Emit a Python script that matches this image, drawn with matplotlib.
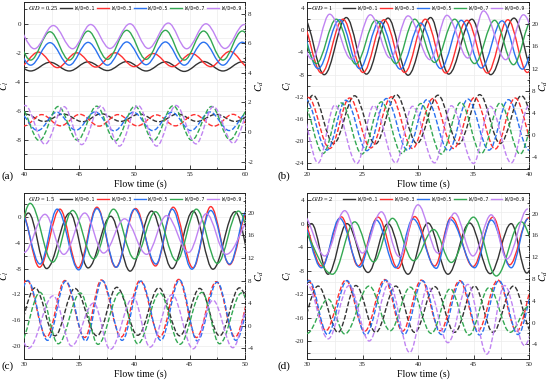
import matplotlib
matplotlib.use('Agg')
import matplotlib.pyplot as plt
from matplotlib.path import Path
from matplotlib.patches import PathPatch
from matplotlib.lines import Line2D
from matplotlib.ticker import AutoMinorLocator

plt.rcParams['font.family'] = ['Liberation Serif', 'DejaVu Serif']
plt.rcParams['mathtext.fontset'] = 'stix'
plt.rcParams['axes.unicode_minus'] = False

# ---------------- data (extrema: times [s], values) ----------------
WD_LABELS = ['W/D=0.1', 'W/D=0.3', 'W/D=0.5', 'W/D=0.7', 'W/D=0.9']
GD_VALUES = ['0.25', '1', '1.5', '2']
PANEL_TAGS = ['(a)', '(b)', '(c)', '(d)']
TIME_RANGES = [(40, 60), (20, 40), (30, 50), (30, 50)]

# Panel (a)  G/D = 0.25
A_CL_T = [
    [38.9, 40.6, 42.35, 44.1, 45.8, 47.55, 49.3, 51.05, 52.8, 54.5, 56.25, 58.0, 59.75, 61.5],
    [37.8, 39.55, 41.3, 43.03, 44.77, 46.5, 48.24, 49.97, 51.7, 53.43, 55.17, 56.9, 58.64, 60.37],
    [38.9, 40.6, 42.35, 44.1, 45.8, 47.55, 49.3, 51.05, 52.8, 54.5, 56.25, 58.0, 59.75, 61.5],
    [38.9, 40.6, 42.35, 44.1, 45.8, 47.55, 49.3, 51.05, 52.8, 54.5, 56.25, 58.0, 59.75, 61.5],
    [39.2, 40.94, 42.65, 44.4, 46.03, 47.78, 49.59, 51.25, 53.06, 54.72, 56.47, 58.19, 59.94, 61.7],
]
A_CL_V = [
    [-2.65, -3.25, -2.65, -3.25, -2.62, -3.22, -2.6, -3.25, -2.62, -3.28, -2.6, -3.25, -2.62, -3.2],
    [-2.0, -3.0, -1.95, -3.02, -2.0, -2.98, -2.0, -2.95, -2.05, -2.95, -2.05, -2.95, -1.9, -3.0],
    [-1.3, -2.85, -1.3, -2.85, -1.28, -2.85, -1.25, -2.82, -1.25, -2.85, -1.27, -2.85, -1.27, -2.85],
    [-0.55, -2.5, -0.55, -2.5, -0.5, -2.45, -0.45, -2.45, -0.45, -2.5, -0.5, -2.5, -0.5, -2.5],
    [-0.1, -1.72, -0.12, -1.72, -0.05, -1.7, 0.0, -1.7, 0.05, -1.72, 0.0, -1.7, -0.05, -1.7],
]
A_CD_T = [
    [38.4, 40.1, 41.8, 43.56, 45.3, 47.0, 48.75, 50.47, 52.2, 53.9, 55.65, 57.4, 59.1, 60.85],
    [38.25, 40.0, 41.6, 43.3, 45.06, 46.8, 48.5, 50.26, 52.0, 53.7, 55.45, 57.2, 58.9, 60.6],
    [39.5, 41.24, 42.96, 44.7, 46.43, 48.17, 49.9, 51.64, 53.37, 55.1, 56.83, 58.58, 60.3],
    [39.63, 41.39, 43.1, 44.83, 46.58, 48.24, 50.05, 51.7, 53.5, 55.17, 56.98, 58.64, 60.45],
    [38.35, 40.09, 41.9, 43.62, 45.22, 46.94, 48.63, 50.32, 52.0, 53.76, 55.57, 57.13, 58.94, 60.6],
]
A_CD_V = [
    [0.72, 1.22, 0.72, 1.22, 0.7, 1.24, 0.72, 1.22, 0.7, 1.22, 0.72, 1.2, 0.72, 1.22],
    [1.18, 0.42, 1.18, 0.42, 1.2, 0.4, 1.18, 0.42, 1.16, 0.42, 1.18, 0.4, 1.2, 0.42],
    [1.34, 0.1, 1.34, 0.12, 1.36, 0.08, 1.34, 0.1, 1.34, 0.1, 1.36, 0.1, 1.34],
    [1.73, -0.58, 1.73, -0.55, 1.75, -0.6, 1.75, -0.58, 1.78, -0.55, 1.73, -0.52, 1.7],
    [-0.8, 1.8, -0.82, 1.72, -0.85, 1.76, -0.95, 1.8, -0.95, 1.8, -0.8, 1.72, -0.75, 1.75],
]

# Panel (b)  G/D = 1
B_CL_T = [
    [19.7, 21.55, 23.54, 25.35, 27.3, 29.1, 31.14, 32.76, 34.86, 36.55, 38.65, 40.5],
    [19.4, 21.3, 23.24, 25.05, 26.94, 28.8, 30.66, 32.5, 34.41, 36.25, 38.1, 39.85, 41.7],
    [19.1, 21.0, 22.94, 24.74, 26.55, 28.4, 30.24, 32.05, 33.9, 35.71, 37.57, 39.4, 41.2],
    [19.0, 20.84, 22.64, 24.4, 26.2, 28.0, 29.7, 31.5, 33.3, 35.1, 36.9, 38.6, 40.3],
    [18.6, 20.45, 22.04, 24.0, 25.7, 27.5, 29.1, 31.1, 32.6, 34.5, 35.9, 37.9, 39.5, 41.3],
]
B_CL_V = [
    [2.2, -8.0, 2.3, -7.9, 2.2, -8.1, 2.3, -7.9, 2.0, -8.0, 2.2, -8.0],
    [2.0, -7.7, 2.0, -7.6, 1.9, -7.6, 2.0, -7.7, 1.8, -7.7, 1.9, -7.6, 2.0],
    [1.9, -6.9, 1.9, -6.9, 1.6, -7.0, 1.3, -6.9, 1.8, -6.8, 1.7, -7.0, 1.8],
    [2.0, -6.0, 2.0, -6.1, 1.8, -6.0, 2.0, -5.8, 2.0, -6.0, 1.8, -6.2, 2.0],
    [2.8, -5.2, 2.9, -5.2, 2.8, -5.0, 2.6, -5.3, 2.7, -5.0, 3.5, -5.3, 2.8, -5.2],
]
B_CD_T = [
    [18.7, 20.54, 22.4, 24.29, 26.15, 28.05, 29.9, 31.8, 33.65, 35.56, 37.4, 39.31, 41.2],
    [18.3, 20.1, 22.05, 23.84, 25.75, 27.6, 29.5, 31.35, 33.2, 35.1, 36.95, 38.75, 40.6],
    [18.0, 19.85, 21.8, 23.5, 25.4, 27.15, 29.05, 30.8, 32.75, 34.5, 36.4, 38.15, 40.0],
    [17.8, 19.6, 21.45, 23.1, 24.95, 26.7, 28.55, 30.25, 32.1, 33.85, 35.7, 37.4, 39.2, 40.9],
    [19.3, 21.0, 22.5, 24.5, 26.0, 28.0, 29.5, 31.5, 33.0, 35.0, 36.5, 38.4, 40.0],
]
B_CD_V = [
    [-1.5, 7.2, -1.5, 7.1, -1.6, 7.3, -1.5, 7.2, -1.6, 7.3, -1.5, 7.1, -1.5],
    [-2.4, 6.8, -2.4, 6.7, -2.3, 6.9, -2.4, 6.6, -2.4, 6.8, -2.5, 6.7, -2.4],
    [-2.7, 6.5, -2.7, 6.3, -2.8, 6.6, -2.7, 6.4, -2.8, 6.5, -2.7, 6.4, -2.7],
    [-3.3, 5.9, -3.3, 5.8, -3.4, 6.0, -3.3, 5.7, -3.4, 5.9, -3.3, 5.8, -3.4, 5.9],
    [5.5, -5.0, 5.4, -5.1, 5.3, -5.0, 5.2, -5.0, 5.3, -5.1, 5.2, -5.0, 5.3],
]

# Panel (c)  G/D = 1.5
C_CL_T = [
    [28.6, 30.4, 32.05, 34.15, 35.8, 37.85, 39.6, 41.55, 43.4, 45.3, 47.1, 49.1, 50.8],
    [28.0, 29.7, 31.4, 33.25, 34.9, 36.6, 38.3, 40.1, 41.9, 43.5, 45.3, 46.9, 48.6, 50.3],
    [27.9, 29.65, 31.45, 33.0, 34.95, 36.6, 38.35, 40.0, 41.95, 43.4, 45.2, 46.9, 48.6, 50.2],
    [28.9, 30.55, 32.6, 34.4, 36.3, 38.1, 40.0, 41.9, 43.8, 45.6, 47.5, 49.4, 51.3],
    [28.2, 30.0, 31.9, 33.6, 35.5, 37.2, 39.1, 41.1, 42.9, 44.9, 46.5, 48.3, 50.8],
]
C_CL_V = [
    [-8.0, 0.6, -8.0, 0.6, -7.9, 0.1, -8.4, 0.9, -8.0, 0.9, -8.1, 0.8, -8.0],
    [-7.6, 1.2, -7.8, 1.2, -7.9, 1.5, -7.8, 1.3, -7.6, 1.5, -7.9, 1.6, -7.4, 1.0],
    [-7.2, 1.0, -7.3, 1.2, -8.2, 1.3, -7.8, 1.2, -7.3, 1.2, -8.1, 1.0, -7.3, 1.0],
    [-7.0, 2.1, -7.0, 1.0, -6.5, 1.2, -6.5, 0.8, -6.8, 1.2, -7.2, 0.9, -7.0],
    [0.3, -5.5, 0.4, -5.8, 0.6, -5.6, -0.3, -5.8, 0.2, -5.5, 0.5, -5.8, 0.3],
]
C_CD_T = [
    [29.2, 31.0, 32.8, 34.6, 36.6, 38.4, 40.3, 42.2, 44.1, 45.9, 47.7, 49.5, 51.3],
    [28.5, 30.25, 32.05, 33.7, 35.5, 37.0, 38.8, 40.5, 42.3, 44.0, 45.6, 47.4, 49.1, 50.9],
    [28.6, 30.33, 32.13, 33.78, 35.58, 37.08, 38.88, 40.58, 42.38, 44.08, 45.68, 47.48, 49.18, 50.98],
    [29.6, 31.45, 33.1, 35.1, 36.7, 38.7, 40.3, 42.3, 44.1, 46.1, 47.7, 49.7, 51.4],
    [28.6, 30.4, 32.65, 34.3, 36.3, 37.8, 39.9, 41.4, 43.4, 45.3, 47.1, 48.9, 50.6],
]
C_CD_V = [
    [-1.8, 6.7, -1.8, 6.6, -1.8, 6.8, -1.7, 6.7, -1.8, 6.6, -1.8, 6.7, -1.8],
    [-2.0, 8.1, -2.0, 8.0, -2.1, 8.1, -2.0, 8.0, -2.0, 8.2, -2.1, 7.8, -2.0, 8.0],
    [-2.6, 8.0, -2.6, 7.9, -2.7, 8.0, -2.6, 7.9, -2.6, 8.1, -2.7, 7.7, -2.6, 7.9],
    [-3.2, 5.9, -3.2, 5.8, -3.3, 5.9, -3.2, 5.8, -3.3, 5.9, -3.2, 5.8, -3.2],
    [5.0, -4.0, 5.3, -3.6, 4.0, -4.2, 5.0, -3.8, 5.5, -4.1, 4.5, -3.9, 5.0],
]

# Panel (d)  G/D = 2
D_CL_T = [
    [28.7, 30.4, 31.9, 33.6, 35.5, 37.3, 39.1, 40.9, 42.7, 44.65, 46.5, 48.4, 49.8, 51.5],
    [29.5, 31.3, 33.1, 34.6, 36.4, 38.2, 39.7, 41.5, 43.0, 44.95, 46.75, 48.25, 50.0],
    [29.4, 31.3, 32.95, 34.75, 36.25, 38.0, 39.55, 41.65, 42.9, 45.1, 46.6, 48.4, 49.9],
    [28.9, 32.3, 34.3, 36.0, 37.7, 39.6, 41.4, 43.0, 45.0, 47.05, 49.3, 51.0],
    [29.6, 31.6, 33.4, 35.0, 36.7, 38.3, 40.0, 41.8, 43.3, 44.95, 46.6, 48.0, 49.9],
]
D_CL_V = [
    [-8.5, 0.0, -8.6, 0.0, -8.3, 0.0, -8.6, 0.1, -8.6, 0.1, -8.5, 0.0, -8.4, 0.0],
    [1.0, -7.2, 1.15, -7.2, 1.1, -7.6, 1.2, -7.2, 1.1, -7.3, 1.1, -7.0, 1.0],
    [0.8, -7.5, 0.9, -7.4, 0.6, -7.5, 0.8, -7.6, 0.7, -7.5, 0.6, -7.5, 0.8],
    [0.5, -8.6, 0.3, -6.5, 0.9, -6.3, -1.0, -6.6, 1.1, -8.9, 0.3, -6.0],
    [1.5, -5.5, 2.2, -5.0, 2.0, -5.6, 3.2, -5.0, 1.8, -5.5, 1.5, -6.0, 2.5],
]
D_CD_T = [
    [29.2, 31.0, 32.8, 34.4, 36.2, 38.0, 39.7, 41.5, 43.3, 45.1, 46.75, 48.6, 50.3],
    [28.4, 30.1, 31.7, 33.5, 35.2, 37.0, 38.6, 40.3, 42.0, 43.75, 45.4, 47.2, 48.9, 50.6],
    [28.5, 30.2, 31.85, 33.6, 35.3, 37.1, 38.75, 40.4, 42.1, 43.85, 45.55, 47.3, 49.0, 50.7],
    [30.0, 31.9, 33.4, 35.6, 37.5, 39.3, 41.2, 42.9, 44.6, 46.4, 48.3, 50.0],
    [28.3, 30.0, 31.9, 33.8, 35.6, 37.4, 39.25, 40.9, 42.7, 44.5, 46.2, 47.8, 49.6, 51.3],
]
D_CD_V = [
    [-1.8, 6.7, -1.8, 6.8, -1.8, 6.7, -1.8, 6.6, -1.8, 6.7, -1.8, 6.7, -1.8],
    [-1.5, 7.8, -1.5, 7.8, -1.6, 7.9, -1.6, 7.8, -1.5, 7.7, -1.5, 7.8, -1.6, 7.8],
    [-2.2, 7.7, -2.2, 7.7, -2.3, 7.8, -2.2, 7.7, -2.2, 7.6, -2.3, 7.7, -2.2, 7.7],
    [-2.0, 4.3, -2.1, 6.7, -1.5, 6.5, -2.0, 6.2, -2.3, 6.4, -1.8, 3.0],
    [-3.0, 7.0, -3.0, 6.8, -3.4, 7.2, -5.5, 6.5, -3.7, 7.0, -5.8, 6.8, -4.2, 6.0],
]

CL_T = [A_CL_T, B_CL_T, C_CL_T, D_CL_T]
CL_V = [A_CL_V, B_CL_V, C_CL_V, D_CL_V]
CD_T = [A_CD_T, B_CD_T, C_CD_T, D_CD_T]
CD_V = [A_CD_V, B_CD_V, C_CD_V, D_CD_V]

# ---------------- styles / layout ----------------
COLORS = ['#333333', '#ff3030', '#2a72f0', '#33a852', '#c084f2']
LEFT_LIMS = [(-10.0, 1.5), (-25.0, 5.1), (-22.0, 3.7), (-23.0, 5.2)]
RIGHT_LIMS = [(-2.5, 8.8), (-6.1, 24.0), (-5.9, 23.5), (-6.7, 23.8)]
LEFT_TICKS = [[-8, -6, -4, -2, 0], [-24, -20, -16, -12, -8, -4, 0, 4],
              [-20, -16, -12, -8, -4, 0], [-20, -16, -12, -8, -4, 0, 4]]
RIGHT_TICKS = [[-2, 0, 2, 4, 6, 8], [-4, 0, 4, 8, 12, 16, 20],
               [-4, 0, 4, 8, 12, 16, 20], [-4, 0, 4, 8, 12, 16, 20]]
X_TICKS = [[40, 45, 50, 55, 60], [20, 25, 30, 35, 40], [30, 35, 40, 45, 50], [30, 35, 40, 45, 50]]

W, H = 550, 382
RECTS = [
    (24 / W, 1 - 169 / H, 221 / W, 167 / H),
    (307 / W, 1 - 169 / H, 222 / W, 167 / H),
    (24 / W, 1 - 359 / H, 221 / W, 166 / H),
    (307 / W, 1 - 359 / H, 222 / W, 166 / H),
]
TAG_POS = [(1 / W, 1 - 176 / H), (277 / W, 1 - 176 / H), (1 / W, 1 - 366 / H), (277 / W, 1 - 366 / H)]


def extrema_path(ts, vs, k=0.36):
    verts = [(ts[0], vs[0])]
    codes = [Path.MOVETO]
    for i in range(len(ts) - 1):
        dt = ts[i + 1] - ts[i]
        verts += [(ts[i] + k * dt, vs[i]), (ts[i + 1] - k * dt, vs[i + 1]), (ts[i + 1], vs[i + 1])]
        codes += [Path.CURVE4] * 3
    return Path(verts, codes)


fig = plt.figure(figsize=(5.5, 3.82), dpi=100)

for p in range(4):
    ax = fig.add_axes(RECTS[p])
    ax2 = ax.twinx()
    ax.set_xlim(*TIME_RANGES[p])
    ax.set_ylim(*LEFT_LIMS[p])
    ax2.set_ylim(*RIGHT_LIMS[p])

    for s in range(5):
        ax.add_patch(PathPatch(extrema_path(CL_T[p][s], CL_V[p][s]), fill=False,
                               edgecolor=COLORS[s], lw=1.0, zorder=3))
        ax2.add_patch(PathPatch(extrema_path(CD_T[p][s], CD_V[p][s]), fill=False,
                                edgecolor=COLORS[s], lw=1.0, linestyle=(0, (3.5, 1.5)), zorder=3))

    ax.set_xticks(X_TICKS[p])
    ax.set_yticks(LEFT_TICKS[p])
    ax2.set_yticks(RIGHT_TICKS[p])
    ax.xaxis.set_minor_locator(AutoMinorLocator(2))
    ax.yaxis.set_minor_locator(AutoMinorLocator(2))
    ax2.yaxis.set_minor_locator(AutoMinorLocator(2))
    ax.grid(True, which='both', color='#ececec', lw=0.5)
    ax.set_axisbelow(True)

    ax.tick_params(axis='both', which='major', direction='in', length=3, width=0.6,
                   labelsize=5, pad=2.0, colors='#222222')
    ax.tick_params(axis='both', which='minor', direction='in', length=1.8, width=0.5)
    ax2.tick_params(axis='y', which='major', direction='in', length=3, width=0.6,
                    labelsize=5, pad=2.0, colors='#222222')
    ax2.tick_params(axis='y', which='minor', direction='in', length=1.8, width=0.5)

    for sp in ['left', 'bottom', 'top']:
        ax.spines[sp].set_linewidth(0.7)
        ax.spines[sp].set_color('#222222')
        ax2.spines[sp].set_visible(False)
    ax.spines['right'].set_visible(False)
    ax2.spines['right'].set_linewidth(0.7)
    ax2.spines['right'].set_color('#222222')
    ax2.spines['right'].set_linestyle((0, (4, 1.5, 1, 1.5)))

    ax.set_xlabel('Flow time (s)', fontsize=7)
    ax.xaxis.set_label_coords(0.525, -0.06)
    ax.set_ylabel(r'$C_l$', fontsize=7)
    ax.yaxis.set_label_coords(-0.058, 0.5)
    ax2.set_ylabel(r'$C_d$', fontsize=7, rotation=90)
    ax2.yaxis.set_label_coords(1.038, 0.5)

    ax.text(0.018, 0.962, r'$G/D$ = ' + GD_VALUES[p], transform=ax.transAxes,
            fontsize=4.6, va='center', ha='left', zorder=5)
    handles = [Line2D([], [], color=COLORS[s], lw=1.0) for s in range(5)]
    ax2.legend(handles, WD_LABELS, loc='center left', bbox_to_anchor=(0.162, 0.962),
               ncol=5, frameon=False, prop={'family': 'DejaVu Sans Mono', 'size': 3.3},
               handlelength=2.6, handletextpad=0.65, columnspacing=0.6,
               borderaxespad=0, borderpad=0)

    fig.text(TAG_POS[p][0], TAG_POS[p][1], PANEL_TAGS[p], fontsize=8, ha='left', va='center')

fig.savefig('out.png', dpi=100)
